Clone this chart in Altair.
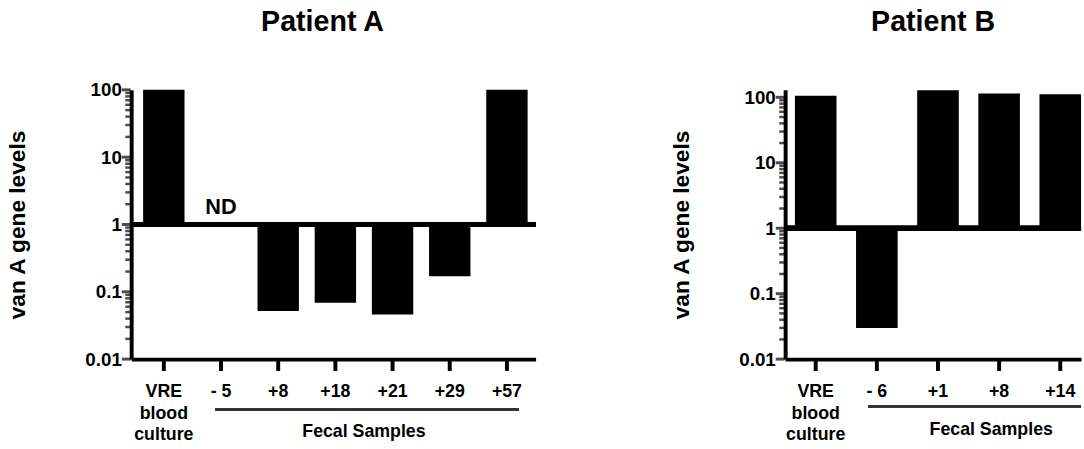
import altair as alt
import pandas as pd

FONT = "Liberation Sans"

a_cats = ["VRE", "- 5", "+8", "+18", "+21", "+29", "+57"]
a_vals = [100, None, 0.052, 0.069, 0.046, 0.17, 100]
b_cats = ["VRE", "- 6", "+1", "+8", "+14"]
b_vals = [106, 0.030, 128, 114, 111]
y_major = [0.01, 0.1, 1, 10, 100]
y_minor_mult = [2, 3, 4, 5, 6, 7, 8, 9]
y_minor = [round(m * d, 6) for d in y_major[:-1] for m in y_minor_mult]

H = 273
YTITLE = "van A gene levels"


def panel(cats, vals, title, ymax, width, pi, po, align, title_dx, title_pad, title_off,
          nd_cat, line_from, line_to, line_off, text_cat, text_dx, line_y, text_y):
    df = pd.DataFrame({"cat": cats, "val": vals})
    tick_df = pd.DataFrame({"cat": cats})
    xscale = alt.Scale(domain=cats, paddingInner=pi, paddingOuter=po, align=align)
    xaxis = alt.Axis(
        title=None, labelAngle=0, labelFont=FONT, labelFontSize=18, labelFontWeight="bold",
        labelColor="black", labelExpr="datum.value == 'VRE' ? ['VRE','blood','culture'] : datum.label",
        labelLineHeight=22, labelBaseline="top", labelPadding=24, ticks=False, tickSize=0,
        domainWidth=4, domainColor="black",
    )
    yscale = alt.Scale(type="log", domain=[0.01, ymax], nice=False)
    yaxis = alt.Axis(
        title=YTITLE, titleFont=FONT, titleFontSize=23, titleFontWeight="bold",
        titleColor="black", titlePadding=title_pad,
        values=y_major, grid=False, ticks=False, tickSize=0,
        labelExpr="datum.value >= 1 ? format(datum.value, 'd') : format(datum.value, '.2~f')",
        labelFont=FONT, labelFontSize=19, labelFontWeight="bold", labelColor="black", labelPadding=10,
        domainWidth=4, domainColor="black",
    )
    bars = alt.Chart(df).mark_bar(color="black").encode(
        x=alt.X("cat:N", sort=cats, scale=xscale, axis=xaxis),
        y=alt.Y("val:Q", scale=yscale, axis=yaxis),
        y2=alt.datum(1),
    )
    base_line = alt.Chart(df).mark_rule(color="black", strokeWidth=5).encode(y=alt.datum(1))
    x_ticks = alt.Chart(tick_df).mark_bar(color="#000000", size=4).encode(
        x=alt.X("cat:N", sort=cats), y=alt.value(H + 1), y2=alt.value(H + 12)
    )
    maj = alt.Chart(pd.DataFrame({"t": y_major})).mark_tick(
        color="#000000", orient="horizontal", thickness=3, size=9, xOffset=-5
    ).encode(y=alt.Y("t:Q", title=YTITLE), x=alt.value(0))
    mnr = alt.Chart(pd.DataFrame({"t": y_minor})).mark_tick(
        color="#000000", orient="horizontal", thickness=2.5, size=5, xOffset=-3.5
    ).encode(y=alt.Y("t:Q", title=YTITLE), x=alt.value(0))
    layers = [bars, base_line]
    if nd_cat is not None:
        nd = alt.Chart(pd.DataFrame({"cat": [nd_cat], "lab": ["ND"]})).mark_text(
            font=FONT, fontSize=22, fontWeight="bold", baseline="bottom", dy=-6, color="black"
        ).encode(x=alt.X("cat:N", sort=cats), y=alt.datum(1), text="lab:N")
        layers.append(nd)
    x2 = alt.datum(line_to) if line_to is not None else alt.value(width)
    fecal_line = alt.Chart(df).mark_rule(
        color="#333333", strokeWidth=2, xOffset=line_off[0], x2Offset=line_off[1]
    ).encode(x=alt.datum(line_from), x2=x2, y=alt.value(H + line_y))
    fecal_text = alt.Chart(pd.DataFrame({"lab": ["Fecal Samples"]})).mark_text(
        font=FONT, fontSize=18, fontWeight="bold", color="black", dx=text_dx
    ).encode(x=alt.datum(text_cat), y=alt.value(H + text_y), text="lab:N")
    layers += [fecal_line, fecal_text, x_ticks, maj, mnr]
    return alt.layer(*layers).properties(
        width=width, height=H,
        title=alt.TitleParams(title, font=FONT, fontSize=29, fontWeight="bold", color="black",
                              offset=title_off, dx=title_dx, anchor="middle", frame="group"),
    )


pa = panel(a_cats, a_vals, "Patient A", 100, 410, 0.276, 0.174, 0.6, -11, 56, 45,
           "- 5", "- 5", "+57", (-6, 12), "+21", -29, 51, 74)
pb = panel(b_cats, b_vals, "Patient B", 130, 300, 0.32, 0.08, 1, 0, 46, 52,
           None, "- 6", None, (-9, 0), "+8", -8, 48, 72)

chart = alt.hconcat(pa, pb, spacing=134).properties(
    padding={"left": 7, "top": 5, "right": 0, "bottom": 0}
).configure_view(stroke=None)

chart.save("out.html", embed_options={"renderer": "svg", "actions": False})
